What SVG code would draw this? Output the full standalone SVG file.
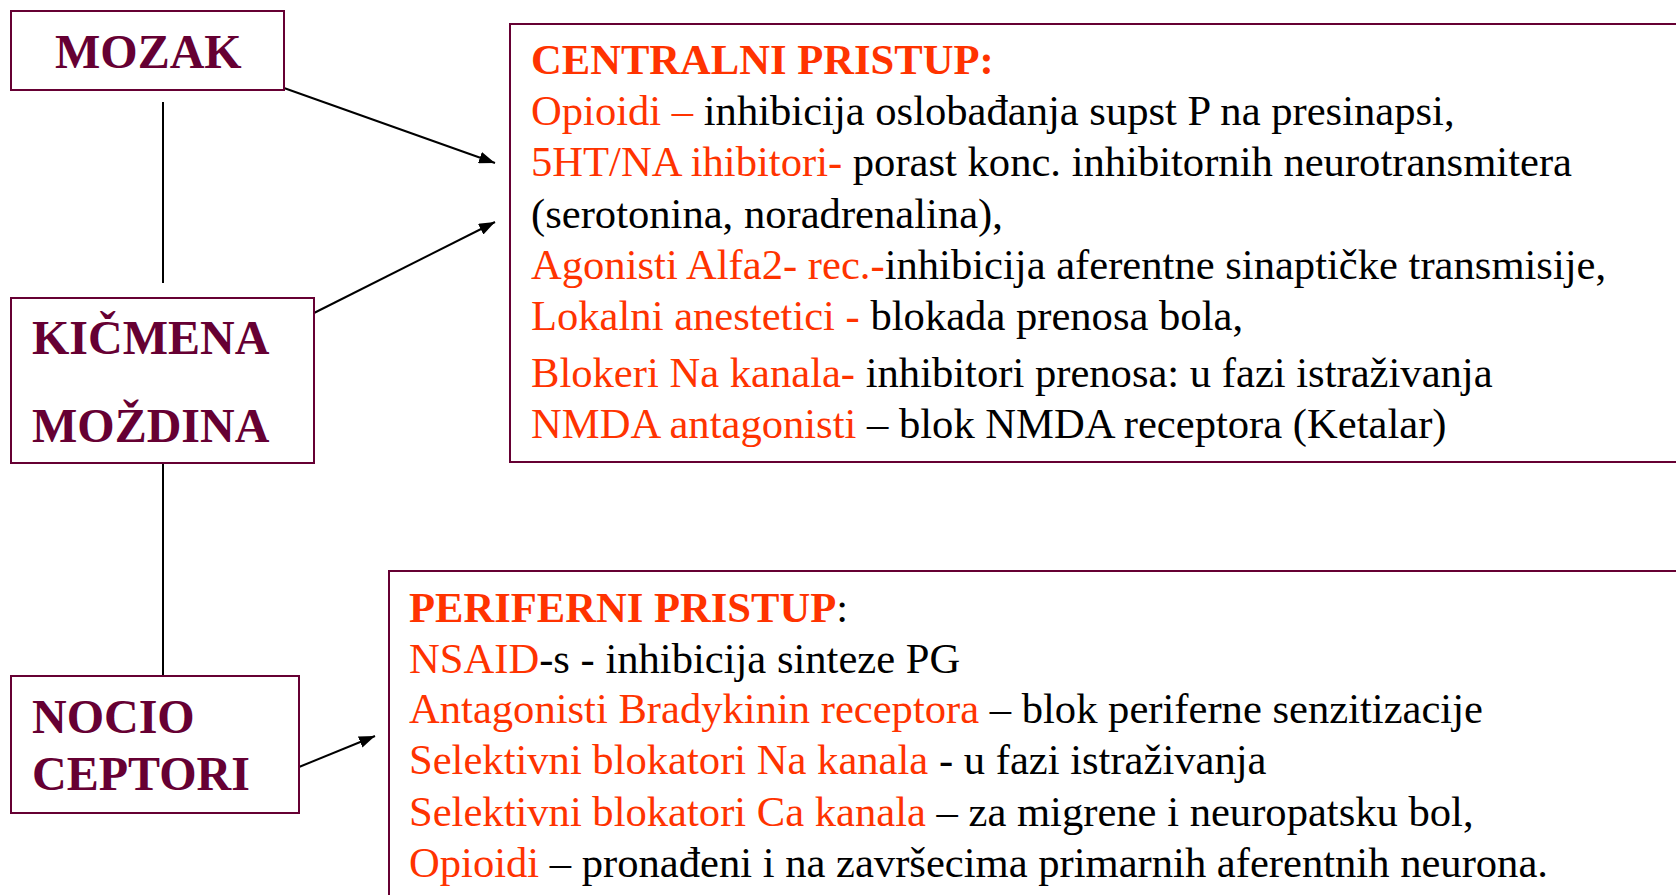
<svg xmlns="http://www.w3.org/2000/svg" width="1676" height="895" viewBox="0 0 1676 895">
<style>
.box{fill:#fff;stroke:#660033;stroke-width:2}
.lbl{font-family:"Liberation Serif","Times New Roman",serif;font-weight:bold;font-size:48px;fill:#660033}
.txt{font-family:"Liberation Serif","Times New Roman",serif;font-size:42.6px;fill:#000}
.r{fill:#FF3300}
.b{font-weight:bold}
.conn{stroke:#000;stroke-width:2;fill:none}
</style>
<defs>
<marker id="arr" viewBox="0 0 16 12" refX="16" refY="6" markerWidth="16" markerHeight="12" markerUnits="userSpaceOnUse" orient="auto">
<path d="M0,0 L16,6 L0,12 z" fill="#000"/>
</marker>
</defs>
<rect width="1676" height="895" fill="#fff"/>
<g id="connectors">
<line class="conn" x1="163" y1="102" x2="163" y2="283"/>
<line class="conn" x1="163" y1="463" x2="163" y2="676"/>
<line class="conn" x1="284" y1="88" x2="495" y2="163" marker-end="url(#arr)"/>
<line class="conn" x1="314" y1="313" x2="495" y2="222" marker-end="url(#arr)"/>
<line class="conn" x1="299" y1="767" x2="375" y2="736" marker-end="url(#arr)"/>
</g>
<g id="mozak">
<rect class="box" x="11" y="11" width="273" height="79"/>
<text class="lbl" x="55" y="68">MOZAK</text>
</g>
<g id="kicmena">
<rect class="box" x="11" y="298" width="303" height="165"/>
<text class="lbl" x="32" y="354">KIČMENA</text>
<text class="lbl" x="32" y="442">MOŽDINA</text>
</g>
<g id="nocio">
<rect class="box" x="11" y="676" width="288" height="137"/>
<text class="lbl" x="32" y="733">NOCIO</text>
<text class="lbl" x="32" y="790">CEPTORI</text>
</g>
<g id="centralni">
<rect class="box" x="510" y="24" width="1180" height="438"/>
<text class="txt" x="531" y="74"><tspan class="r b">CENTRALNI PRISTUP:</tspan></text>
<text class="txt" x="531" y="125"><tspan class="r">Opioidi – </tspan>inhibicija oslobađanja supst P na presinapsi,</text>
<text class="txt" x="531" y="176"><tspan class="r">5HT/NA ihibitori-</tspan> porast konc. inhibitornih neurotransmitera</text>
<text class="txt" x="531" y="228">(serotonina, noradrenalina),</text>
<text class="txt" x="531" y="279"><tspan class="r">Agonisti Alfa2- rec.-</tspan>inhibicija aferentne sinaptičke transmisije,</text>
<text class="txt" x="531" y="330"><tspan class="r">Lokalni anestetici - </tspan>blokada prenosa bola,</text>
<text class="txt" x="531" y="387"><tspan class="r">Blokeri Na kanala-</tspan> inhibitori prenosa: u fazi istraživanja</text>
<text class="txt" x="531" y="438"><tspan class="r">NMDA antagonisti</tspan> – blok NMDA receptora (Ketalar)</text>
</g>
<g id="periferni">
<rect class="box" x="389" y="571" width="1300" height="340"/>
<text class="txt" x="409" y="622"><tspan class="r b">PERIFERNI PRISTUP</tspan>:</text>
<text class="txt" x="409" y="673"><tspan class="r">NSAID</tspan>-s - inhibicija sinteze PG</text>
<text class="txt" x="409" y="723"><tspan class="r">Antagonisti Bradykinin receptora</tspan> – blok periferne senzitizacije</text>
<text class="txt" x="409" y="774"><tspan class="r">Selektivni blokatori Na kanala</tspan> - u fazi istraživanja</text>
<text class="txt" x="409" y="826"><tspan class="r">Selektivni blokatori Ca kanala</tspan> – za migrene i neuropatsku bol,</text>
<text class="txt" x="409" y="877"><tspan class="r">Opioidi</tspan> – pronađeni i na završecima primarnih aferentnih neurona.</text>
</g>
</svg>
